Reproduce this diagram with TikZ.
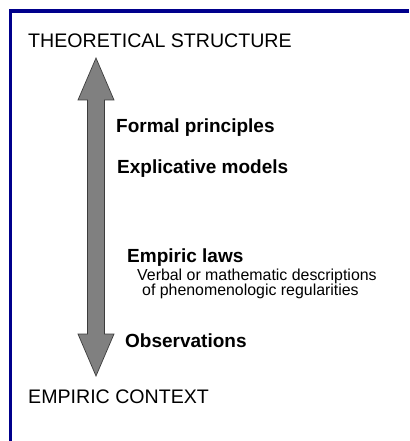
\documentclass[tikz,border=0pt]{standalone}
\usepackage{fontspec}
\setmainfont{Liberation Sans}
\usepackage{xcolor}
\usepackage{tikz}

\definecolor{frameblue}{RGB}{0,0,140}
\definecolor{arrowgray}{RGB}{128,128,128}
\definecolor{arrowedge}{RGB}{60,60,60}

\tikzset{
	heading/.style={anchor=base west, inner sep=0pt, font=\fontsize{19.6}{22}\selectfont},
	level/.style={anchor=base west, inner sep=0pt, font=\fontsize{19}{22}\selectfont\bfseries},
	remark/.style={anchor=base west, inner sep=0pt, font=\fontsize{15.9}{18}\selectfont},
}

\begin{document}
\begin{tikzpicture}[x=1pt, y=-1pt]
			
			\useasboundingbox[fill=white] (0,0) rectangle (409,441);
			
			% Frame
			\draw[draw=frameblue, line width=3.5pt] (10.5,441) -- (10.5,11) -- (409,11);
			
			% Two-headed arrow
			\coordinate (top tip) at (96,58);
			\coordinate (bottom tip) at (96,376);
			\draw[fill=arrowgray, draw=arrowedge, line width=0.7pt]
				(top tip) -- (114,100) -- (104.5,100) -- (104.5,334) -- (114,334)
				-- (bottom tip) -- (78,334) -- (87.5,334) -- (87.5,100) -- (78,100) -- cycle;
			
			% Ends of the scale
			\node[heading] (theory) at (28,48) {THEORETICAL STRUCTURE};
			\node[heading] (empiric) at (28,403) {EMPIRIC CONTEXT};
			
			% Levels
			\node[level] (formal) at (116,132) {Formal principles};
			\node[level] (models) at (117,173) {Explicative models};
			\node[level] (laws) at (127,262) {Empiric laws};
			\node[remark] (verbal) at (137,280) {Verbal or mathematic descriptions};
			\node[remark] (regular) at (142,295) {of phenomenologic regularities};
			\node[level] (observ) at (125,347) {Observations};
			
		\end{tikzpicture}
\end{document}
